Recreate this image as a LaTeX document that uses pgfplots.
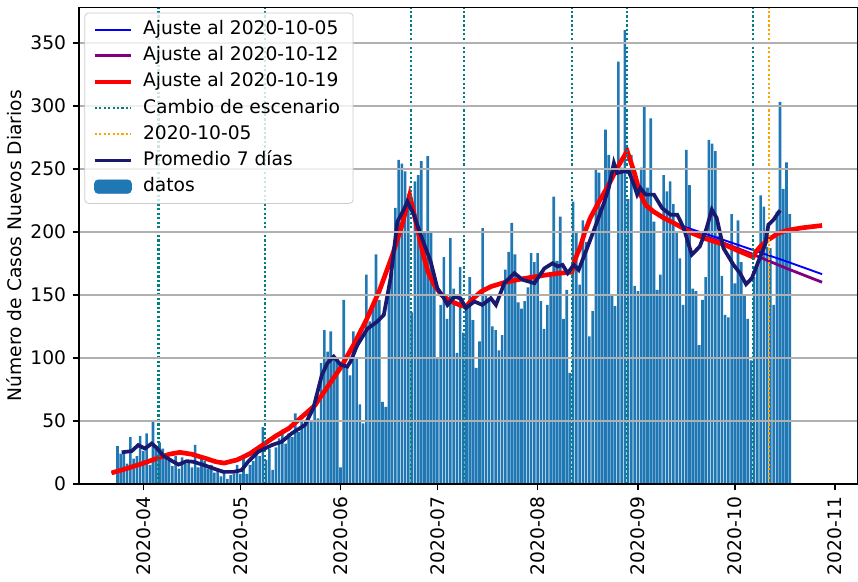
\documentclass[border=0pt]{standalone}
\usepackage{fontspec}
\setmainfont{DejaVu Sans}
\usepackage{pgfplots}
\usepackage{pgfplotstable}
\pgfplotsset{compat=1.18}
\definecolor{barblue}{HTML}{1F77B4}
\definecolor{navyc}{HTML}{191970}
\definecolor{tealc}{HTML}{008080}
\definecolor{orangec}{HTML}{FFA500}
\definecolor{gridc}{HTML}{B0B0B0}
\definecolor{purplec}{HTML}{800080}
\definecolor{legframe}{HTML}{CCCCCC}

\pgfplotstableread[row sep=\\]{
x y\\
23 30\\ 24 24\\ 25 25\\ 26 16\\ 27 37\\ 28 20\\ 29 22\\ 30 38\\ 31 26\\ 32 40\\
33 15\\ 34 49\\ 35 30\\ 36 33\\ 37 28\\ 38 20\\ 39 18\\ 40 14\\ 41 22\\ 42 12\\
43 21\\ 44 16\\ 45 18\\ 46 13\\ 47 31\\ 48 13\\ 49 20\\ 50 18\\ 51 12\\ 52 15\\
53 9\\ 54 11\\ 55 6\\ 56 9\\ 57 4\\ 58 7\\ 59 8\\ 60 15\\
61 8\\ 62 20\\ 63 8\\ 64 15\\ 65 18\\ 66 25\\ 67 22\\ 68 45\\ 69 19\\ 70 28\\
71 11\\ 72 29\\ 73 36\\ 74 43\\ 75 32\\ 76 40\\ 77 37\\ 78 56\\ 79 41\\ 80 49\\
81 47\\ 82 55\\ 83 49\\ 84 60\\ 85 52\\ 86 96\\ 87 122\\ 88 105\\ 89 121\\ 90 99\\
91 100\\
92 13\\ 93 146\\ 94 94\\ 95 86\\ 96 121\\ 97 100\\ 98 63\\ 99 48\\ 100 166\\ 101 129\\
102 140\\ 103 182\\ 104 146\\ 105 65\\ 106 61\\ 107 158\\ 108 168\\ 109 219\\ 110 257\\ 111 254\\
112 248\\ 113 230\\ 114 136\\ 115 240\\ 116 245\\ 117 256\\ 118 200\\ 119 260\\ 120 200\\ 121 160\\
122 99\\ 123 142\\ 124 180\\ 125 131\\ 126 195\\ 127 155\\ 128 104\\ 129 172\\ 130 120\\ 131 142\\
132 164\\ 133 130\\ 134 92\\ 135 113\\ 136 203\\ 137 150\\ 138 147\\ 139 125\\ 140 122\\ 141 106\\
142 118\\ 143 170\\ 144 184\\ 145 207\\ 146 182\\ 147 144\\ 148 139\\ 149 145\\ 150 156\\ 151 183\\
152 176\\
153 183\\ 154 145\\ 155 123\\ 156 142\\ 157 165\\ 158 228\\ 159 177\\ 160 212\\ 161 131\\ 162 154\\
163 88\\ 164 224\\ 165 200\\ 166 158\\ 167 209\\ 168 192\\ 169 117\\ 170 137\\ 171 249\\ 172 247\\
173 219\\ 174 281\\ 175 261\\ 176 150\\ 177 141\\ 178 335\\ 179 251\\ 180 360\\ 181 226\\ 182 261\\
183 157\\
184 153\\ 185 251\\ 186 300\\ 187 235\\ 188 290\\ 189 208\\ 190 154\\ 191 166\\ 192 245\\ 193 232\\
194 240\\ 195 222\\ 196 200\\ 197 179\\ 198 142\\ 199 265\\ 200 237\\ 201 155\\ 202 153\\ 203 110\\
204 146\\ 205 164\\ 206 273\\ 207 270\\ 208 264\\ 209 197\\ 210 165\\ 211 134\\ 212 132\\ 213 214\\
214 159\\ 215 209\\ 216 176\\ 217 150\\ 218 131\\ 219 98\\ 220 164\\ 221 176\\ 222 229\\ 223 220\\
224 188\\ 225 187\\ 226 142\\ 227 216\\ 228 303\\ 229 234\\ 230 255\\ 231 214\\
}\datos

\pgfplotstableread[row sep=\\]{
x y\\
21.2 8.7\\ 25 11.5\\ 30 15.5\\ 35 20\\ 39 23.5\\ 42.3 25\\ 46 23.5\\ 50.5 20\\ 53.5 17.5\\ 56 16.5\\
60 19\\ 64 24\\ 68 31\\ 72 38\\ 76 44\\ 80 53\\ 84 62\\ 88 77\\ 92 92\\ 96 110\\
100 130\\ 104 153\\ 108 181\\ 111 205\\ 113.4 229\\ 114.8 214\\ 116 200\\ 117.5 183\\ 119.1 168\\ 121 158\\
123.2 150\\ 126 145\\ 128.8 142\\ 130.8 140.5\\ 133 147\\ 135.5 152.5\\ 138.5 156.5\\ 143 160\\ 148.9 163\\ 155 165.5\\
159.2 167\\ 163.6 168\\ 164.3 176\\ 165.2 182\\ 166.2 188\\ 167.5 199\\ 169.3 211\\ 172 224\\ 174.5 235\\ 177.6 250.6\\
180.7 264\\ 182.8 248\\ 184.8 229.5\\ 186.5 221\\ 188.9 216\\ 192 211\\ 195.1 207\\
}\fitcommon

\pgfplotstableread[row sep=\\]{
x y\\
195.1 207\\ 200.7 199\\ 205 194.5\\ 210.6 190\\ 215 185\\ 219.7 180\\ 220.5 184\\ 222 188.5\\ 224 193\\ 227.2 198.5\\
230 201\\ 234.4 203\\ 241 205\\
}\fitred

\pgfplotstableread[row sep=\\]{
x y\\
195.1 207\\ 200.7 202\\ 210 194\\ 219.7 185.5\\ 230 176.5\\ 241 166.4\\
}\fitblue

\pgfplotstableread[row sep=\\]{
x y\\
195.1 207\\ 200.7 200\\ 210.6 191\\ 219.7 182\\ 230 171\\ 241 160\\
}\fitpurple

\pgfplotstableread[row sep=\\]{
x y\\
24.3 25\\ 27.4 26\\ 29.4 30.7\\ 31.5 28\\ 33.6 32\\ 35.1 28.6\\ 37.2 22.3\\ 40.3 17.5\\ 41.9 15.3\\ 44.4 18\\
46.5 17.5\\ 49.6 15\\ 52.7 12.2\\ 55.8 9.5\\ 58.9 9.5\\ 61.4 10.9\\ 63.4 17.5\\ 66.5 25.4\\ 70.7 30.7\\ 73.8 33.4\\
76.9 40\\ 81 46.7\\ 83.6 60\\ 86.2 86\\ 87.9 95.6\\ 89.9 101\\ 92 94.6\\ 94.1 93\\ 95.1 97\\ 97.2 110\\
100.3 123\\ 103.4 128.8\\ 105.4 134\\ 107.5 163\\ 109.6 208\\ 111.6 217.6\\ 112.7 224\\ 114.7 213.6\\ 116.8 197.7\\ 119.9 176.5\\
122 155\\ 124.1 147\\ 125.1 142\\ 127.2 148.6\\ 129.2 147\\ 130.8 139.4\\ 133.4 144.7\\ 135.9 142\\ 138.5 147.3\\ 140.1 142\\
142.7 159.2\\ 145.8 167.2\\ 148.3 162\\ 152 159.2\\ 155.1 171\\ 157.6 175\\ 159.2 172.5\\ 160.7 173.8\\ 162.3 167.2\\ 164.2 173.8\\
165.7 169.8\\ 168.3 187\\ 171.4 208\\ 173.5 222.8\\ 175 234.7\\ 176.6 254.6\\ 177.6 246.7\\ 179.7 248\\ 181.2 248\\ 182.8 237.4\\
183.8 229.5\\ 184.8 234.7\\ 186.4 229.5\\ 189 229.5\\ 191.5 218.8\\ 194.1 213.6\\ 196.2 213.6\\ 198.2 203\\ 200.7 181.8\\ 203.2 188.4\\
205.3 203\\ 206.9 217.6\\ 208.4 211\\ 210.5 187\\ 213.6 173.8\\ 215.6 167.2\\ 217.5 158.4\\ 219.3 163.2\\ 221.3 176.5\\ 223.4 189.7\\
224.4 205.6\\ 226 209.6\\ 228 217\\
}\promedio

\begin{document}
\begin{tikzpicture}
\begin{axis}[
  scale only axis, width=416.5pt, height=255pt,
  xmin=11.15, xmax=251.9, ymin=0, ymax=378,
  axis on top,
  xtick={31,61,92,122,153,184,214,245},
  xticklabels={2020-04,2020-05,2020-06,2020-07,2020-08,2020-09,2020-10,2020-11},
  xticklabel style={rotate=90, anchor=east},
  ytick={0,50,100,150,200,250,300,350},
  ymajorgrids,
  grid style={gridc, line width=0.8pt},
  tick align=outside,
  xtick pos=lower, ytick pos=left,
  major tick length=3.5pt,
  every tick/.style={black, line width=0.8pt},
  axis line style={line width=0.8pt},
  ylabel={Número de Casos Nuevos Diarios},
  ylabel style={at={(axis description cs:-0.084,0.5)}, anchor=center},
  label style={font=\fontsize{10}{12}\selectfont},
  tick label style={font=\fontsize{10}{12}\selectfont},
  /pgf/number format/assume math mode=true,
  legend cell align=left,
  legend image code/.code={\draw[#1, line cap=butt] (0pt,0pt) -- (19.7pt,0pt);},
  legend style={
    at={(0.0067,0.9894)}, anchor=north west,
    draw=legframe, rounded corners=2pt, fill=white, fill opacity=0.8, text opacity=1,
    font=\fontsize{10}{12}\selectfont,
    inner xsep=4pt, inner ysep=2.5pt,
    nodes={inner xsep=3pt, inner ysep=1.5pt, text height=7.6pt, text depth=2.4pt},
    row sep=1pt, column sep=2pt,
  },
]
\addplot[ybar, bar width=0.8, bar shift=0pt, fill=barblue, draw=none, forget plot] table[x=x, y=y] {\datos};

\addplot[blue, line width=1pt] table[x=x,y=y] {\fitcommon};
\addlegendentry{Ajuste al 2020-10-05}
\addplot[purplec, line width=1.5pt] table[x=x,y=y] {\fitcommon};
\addlegendentry{Ajuste al 2020-10-12}
\addplot[red, line width=2.5pt] table[x=x,y=y] {\fitcommon};
\addlegendentry{Ajuste al 2020-10-19}
\addplot[blue, line width=1pt, forget plot] table[x=x,y=y] {\fitblue};
\addplot[purplec, line width=1.5pt, forget plot] table[x=x,y=y] {\fitpurple};
\addplot[red, line width=2.5pt, forget plot] table[x=x,y=y] {\fitred};

\addplot[tealc, line width=1.2pt, dash pattern=on 1.2pt off 1.2pt] coordinates {(35.7,0) (35.7,378)};
\addlegendentry{Cambio de escenario}
\addplot[tealc, line width=1.2pt, dash pattern=on 1.2pt off 1.2pt, forget plot] coordinates {(68.7,0) (68.7,378)};
\addplot[tealc, line width=1.2pt, dash pattern=on 1.2pt off 1.2pt, forget plot] coordinates {(113.9,0) (113.9,378)};
\addplot[tealc, line width=1.2pt, dash pattern=on 1.2pt off 1.2pt, forget plot] coordinates {(130.3,0) (130.3,378)};
\addplot[tealc, line width=1.2pt, dash pattern=on 1.2pt off 1.2pt, forget plot] coordinates {(163.6,0) (163.6,378)};
\addplot[tealc, line width=1.2pt, dash pattern=on 1.2pt off 1.2pt, forget plot] coordinates {(180.7,0) (180.7,378)};
\addplot[tealc, line width=1.2pt, dash pattern=on 1.2pt off 1.2pt, forget plot] coordinates {(219.7,0) (219.7,378)};
\addplot[orangec, line width=1.2pt, dash pattern=on 1.2pt off 1.2pt] coordinates {(224.6,0) (224.6,378)};
\addlegendentry{2020-10-05}

\addplot[navyc, line width=2pt] table[x=x,y=y] {\promedio};
\addlegendentry{Promedio 7 días}

\addlegendimage{legend image code/.code={\fill[barblue, fill opacity=1] (0pt,-3.6pt) rectangle (19.7pt,3.6pt);}}
\addlegendentry{datos}
\end{axis}
\path ([yshift=4pt]current axis.north);
\end{tikzpicture}
\end{document}
